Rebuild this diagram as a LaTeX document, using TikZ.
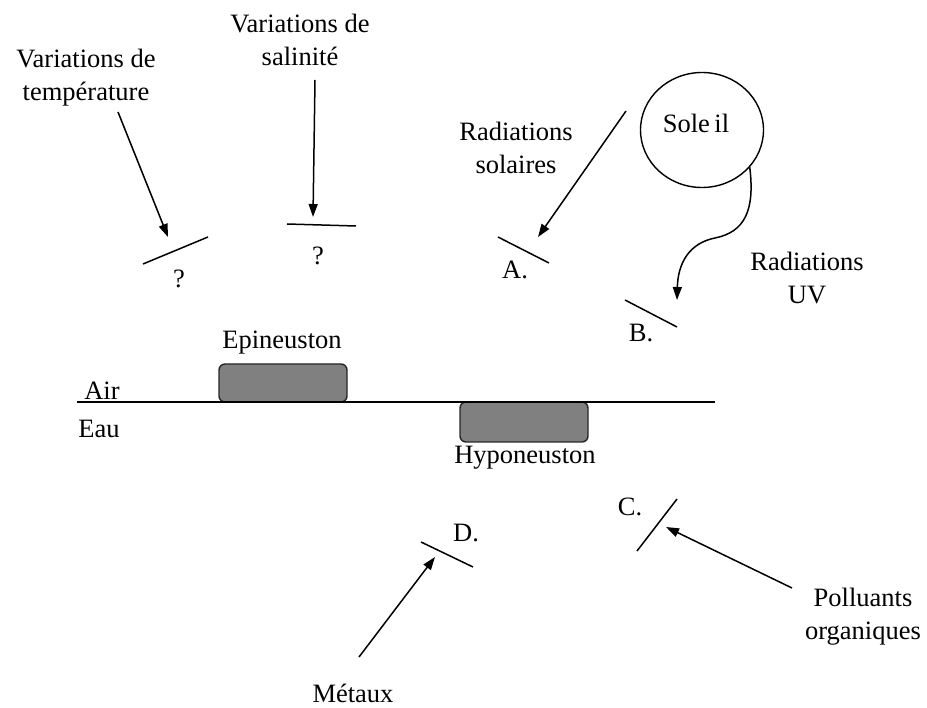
\documentclass[tikz,border=0pt]{standalone}
\usepackage{fontspec}
\setmainfont{Liberation Serif}
\usetikzlibrary{arrows.meta,shapes.geometric}
\begin{document}
\begin{tikzpicture}[x=1pt,y=-1pt,
  lbl/.style={font=\fontsize{26.5}{33}\selectfont, align=center, inner sep=0pt},
  arr/.style={line width=1.5pt, -{Triangle[length=13pt,width=9pt]}},
  barline/.style={line width=1.5pt},
  orgbox/.style={draw=black!85, line width=1.4pt, fill=gray, rounded corners=6pt},
  surface/.style={line width=1.5pt}]
\useasboundingbox (0,0) rectangle (927,708);

% labels
\node[lbl] (temp) at (86,78) {Variations de\\température};
\node[lbl] (sal) at (300,40) {Variations de\\salinité};
\node[lbl] (solaires) at (516,148) {Radiations\\solaires};
\node[lbl] (uv) at (807,278) {Radiations\\UV};
\node[lbl] (poll) at (863,617) {Polluants\\organiques};
\node[lbl, anchor=base] (metaux) at (353,702) {Métaux};
\node[lbl] (epilbl) at (282,343) {Epineuston};
\node[lbl] (hypolbl) at (525,458) {Hyponeuston};
\node[lbl] (air) at (102,391) {Air};
\node[lbl] (eau) at (99,429) {Eau};
\node[lbl] (q1) at (179,279) {?};
\node[lbl] (q2) at (318,256) {?};
\node[lbl] (la) at (515,270) {A.};
\node[lbl] (lb) at (641,333) {B.};
\node[lbl] (lc) at (630,507) {C.};
\node[lbl] (ld) at (466,533) {D.};

% sun
\node[draw, ellipse, line width=1.4pt, minimum width=123pt, minimum height=115pt, inner sep=0pt] (soleil) at (702,130) {};
\node[lbl] (soleiltxt) at (696,123) {Sole\,il};

% surface and organisms
\coordinate (s1) at (77,402);
\coordinate (s2) at (715,402);
\draw[orgbox] (219,402) rectangle (347,364);
\draw[orgbox] (460,402) rectangle (588,442);
\draw[surface] (s1) -- (s2);

% bars
\coordinate (b1a) at (143,264); \coordinate (b1b) at (208,237);
\coordinate (b2a) at (287,224); \coordinate (b2b) at (356,226);
\coordinate (baa) at (498,237); \coordinate (bab) at (549,263);
\coordinate (bba) at (625,300); \coordinate (bbb) at (677,327);
\coordinate (bca) at (637,551); \coordinate (bcb) at (677,499);
\coordinate (bda) at (421,542); \coordinate (bdb) at (473,567);
\draw[barline] (b1a) -- (b1b);
\draw[barline] (b2a) -- (b2b);
\draw[barline] (baa) -- (bab);
\draw[barline] (bba) -- (bbb);
\draw[barline] (bca) -- (bcb);
\draw[barline] (bda) -- (bdb);

% arrows
\coordinate (t1s) at (118,112); \coordinate (t1e) at (168,237);
\coordinate (t2s) at (315,80);  \coordinate (t2e) at (313,217);
\coordinate (tas) at (626,111); \coordinate (tae) at (538,237);
\coordinate (tbe) at (677,300);
\coordinate (tcs) at (792,588); \coordinate (tce) at (666,527);
\coordinate (tds) at (359,657); \coordinate (tde) at (435,557);
\draw[arr] (t1s) -- (t1e);
\draw[arr] (t2s) -- (t2e);
\draw[arr] (tas) -- (tae);
\draw[arr] (soleil.-38) .. controls (755,210) and (745,232) .. (715,238) .. controls (690,243) and (678,262) .. (tbe);
\draw[arr] (tcs) -- (tce);
\draw[arr] (tds) -- (tde);
\end{tikzpicture}
\end{document}
